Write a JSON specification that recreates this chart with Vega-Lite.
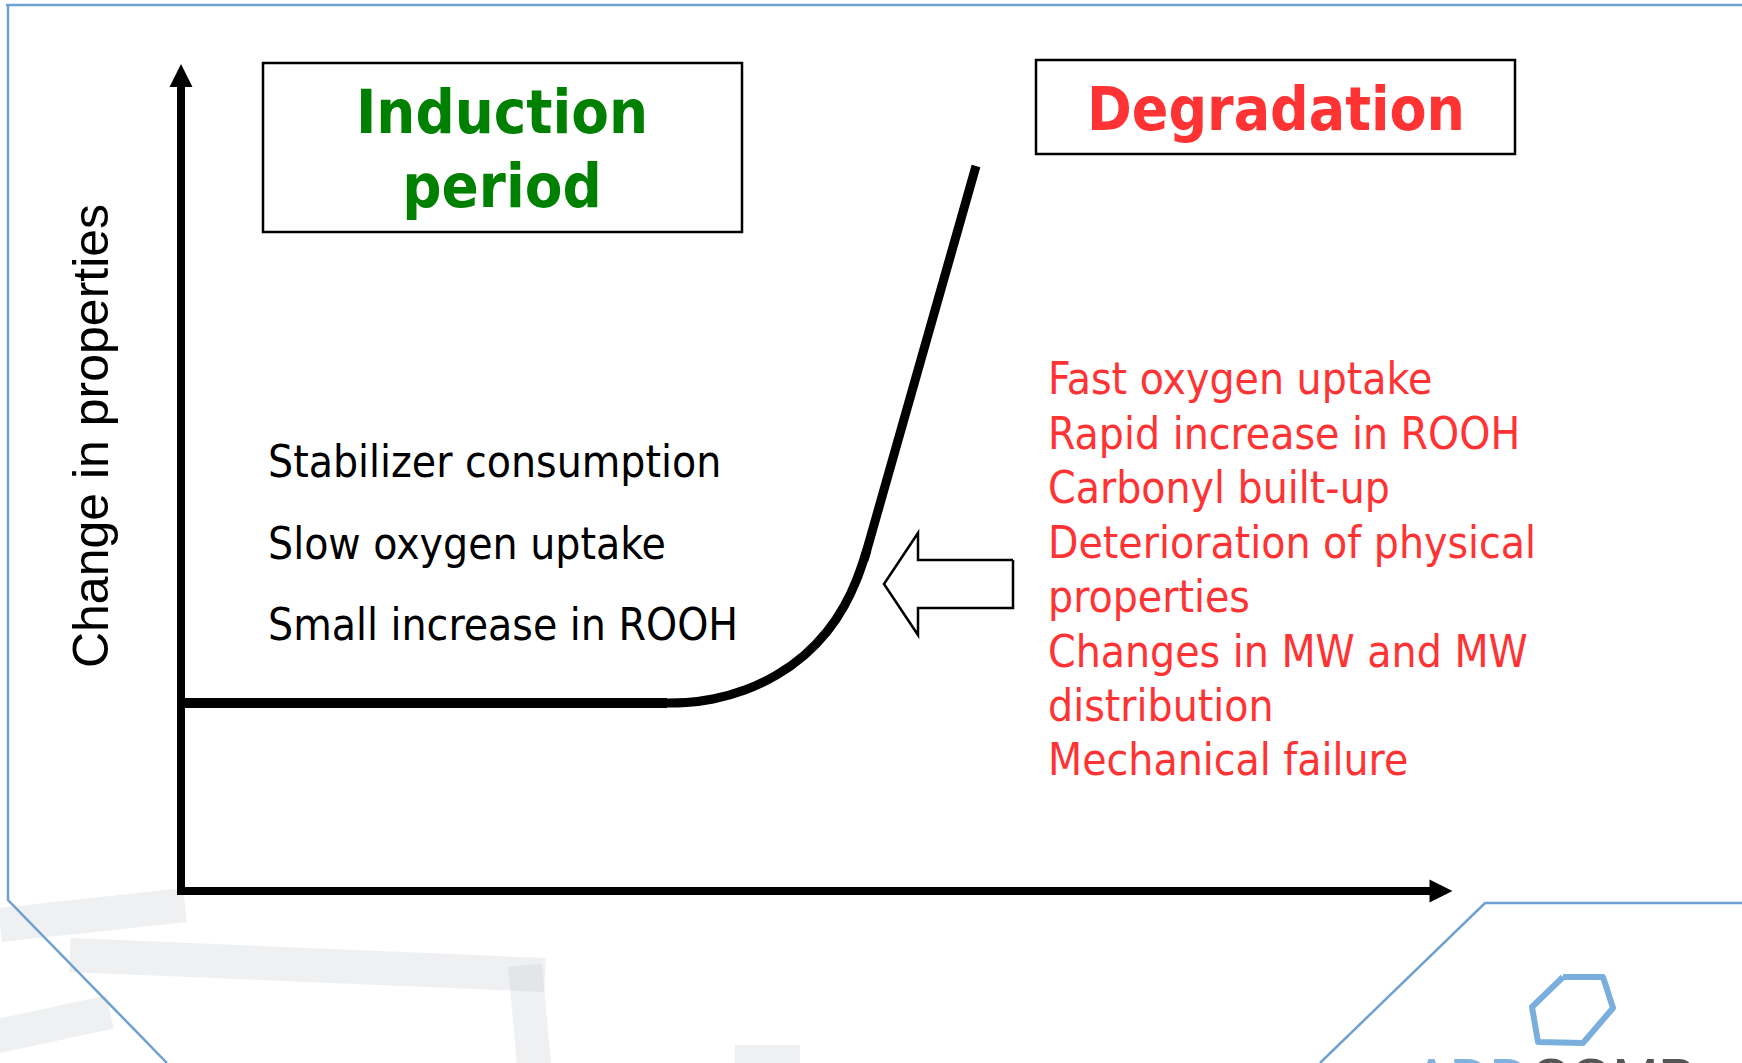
{
  "$schema": "https://vega.github.io/schema/vega-lite/v6.json",
  "width": 1742,
  "height": 1063,
  "autosize": {"type": "none"},
  "padding": 0,
  "background": "white",
  "config": {"view": {"stroke": null}},
  "encoding": {
    "x": {"field": "x", "type": "quantitative", "scale": {"domain": [0, 1742], "nice": false, "zero": false}, "axis": null},
    "y": {"field": "y", "type": "quantitative", "scale": {"domain": [0, 1063], "nice": false, "zero": false, "reverse": true}, "axis": null}
  },
  "layer": [
    {
      "data": {"values": [
        {"g": "a", "i": 0, "x": 0, "y": 925}, {"g": "a", "i": 1, "x": 185, "y": 905},
        {"g": "b", "i": 0, "x": 70, "y": 955}, {"g": "b", "i": 1, "x": 545, "y": 975},
        {"g": "c", "i": 0, "x": 525, "y": 965}, {"g": "c", "i": 1, "x": 535, "y": 1075},
        {"g": "d", "i": 0, "x": -20, "y": 1040}, {"g": "d", "i": 1, "x": 110, "y": 1012},
        {"g": "e", "i": 0, "x": 735, "y": 1062}, {"g": "e", "i": 1, "x": 800, "y": 1062}
      ]},
      "mark": {"type": "line", "color": "#c9cdd3", "strokeWidth": 34, "opacity": 0.3, "strokeCap": "butt"},
      "encoding": {"detail": {"field": "g"}, "order": {"field": "i", "type": "quantitative"}}
    },
    {
      "data": {"values": [
        {"g": "top", "i": 0, "x": 6, "y": 5}, {"g": "top", "i": 1, "x": 1742, "y": 5},
        {"g": "left", "i": 0, "x": 8, "y": 5}, {"g": "left", "i": 1, "x": 8, "y": 900}, {"g": "left", "i": 2, "x": 167, "y": 1063},
        {"g": "br", "i": 0, "x": 1742, "y": 903}, {"g": "br", "i": 1, "x": 1485, "y": 903}, {"g": "br", "i": 2, "x": 1320, "y": 1063}
      ]},
      "mark": {"type": "line", "color": "#6fa1d0", "strokeWidth": 2.5},
      "encoding": {"detail": {"field": "g"}, "order": {"field": "i", "type": "quantitative"}}
    },
    {
      "data": {"values": [
        {"g": "hex", "i": 0, "x": 1563, "y": 977}, {"g": "hex", "i": 1, "x": 1603, "y": 977},
        {"g": "hex", "i": 2, "x": 1613, "y": 1008}, {"g": "hex", "i": 3, "x": 1583, "y": 1043},
        {"g": "hex", "i": 4, "x": 1538, "y": 1042}, {"g": "hex", "i": 5, "x": 1532, "y": 1007},
        {"g": "hex", "i": 6, "x": 1563, "y": 977}
      ]},
      "mark": {"type": "line", "color": "#7aaedc", "strokeWidth": 6, "strokeJoin": "round"},
      "encoding": {"detail": {"field": "g"}, "order": {"field": "i", "type": "quantitative"}}
    },
    {
      "data": {"values": [
        {"t": "ADD", "x": 1413, "y": 1097, "c": "a"},
        {"t": "COMP", "x": 1530, "y": 1097, "c": "b"}
      ]},
      "mark": {"type": "text", "font": "Liberation Sans", "fontSize": 55, "align": "left", "baseline": "alphabetic"},
      "encoding": {
        "text": {"field": "t"},
        "color": {"field": "c", "type": "nominal", "scale": {"domain": ["a", "b"], "range": ["#7fb2e0", "#555555"]}, "legend": null}
      }
    },
    {
      "data": {"values": [
        {"x": 181, "y": 891, "x2": 181, "y2": 84},
        {"x": 177, "y": 891, "x2": 1432, "y2": 891}
      ]},
      "mark": {"type": "rule", "color": "black", "strokeWidth": 8},
      "encoding": {
        "x2": {"field": "x2"},
        "y2": {"field": "y2"}
      }
    },
    {
      "data": {"values": [{"x": 181, "y": 75.5}]},
      "mark": {"type": "point", "shape": "M0,-1L1,1L-1,1Z", "size": 529, "filled": true, "color": "black", "opacity": 1, "strokeWidth": 0}
    },
    {
      "data": {"values": [{"x": 1441, "y": 891}]},
      "mark": {"type": "point", "shape": "M-1,-1L1,0L-1,1Z", "size": 529, "filled": true, "color": "black", "opacity": 1, "strokeWidth": 0}
    },
    {
      "data": {"values": [
        {"i": 0, "x": 181, "y": 703}, {"i": 1, "x": 420, "y": 703}, {"i": 2, "x": 667, "y": 703}
      ]},
      "mark": {"type": "line", "color": "black", "strokeWidth": 10, "strokeCap": "butt"},
      "encoding": {"order": {"field": "i", "type": "quantitative"}}
    },
    {
      "data": {"values": [
        {"i": 0, "x": 665, "y": 703}, {"i": 1, "x": 685, "y": 703}, {"i": 2, "x": 712, "y": 700},
        {"i": 3, "x": 745, "y": 691}, {"i": 4, "x": 777, "y": 676}, {"i": 5, "x": 805, "y": 656},
        {"i": 6, "x": 828, "y": 632}, {"i": 7, "x": 845, "y": 606}, {"i": 8, "x": 857, "y": 580},
        {"i": 9, "x": 864, "y": 559}, {"i": 10, "x": 867, "y": 550}
      ]},
      "mark": {"type": "line", "color": "black", "strokeWidth": 9, "interpolate": "basis", "strokeCap": "butt"},
      "encoding": {"order": {"field": "i", "type": "quantitative"}}
    },
    {
      "data": {"values": [
        {"i": 0, "x": 864, "y": 560}, {"i": 1, "x": 976, "y": 166}
      ]},
      "mark": {"type": "line", "color": "black", "strokeWidth": 9, "strokeCap": "butt"},
      "encoding": {"order": {"field": "i", "type": "quantitative"}}
    },
    {
      "data": {"values": [
        {"x": 263, "y": 63, "x2": 742, "y2": 232},
        {"x": 1036, "y": 60, "x2": 1515, "y2": 154}
      ]},
      "mark": {"type": "rect", "fill": "white", "stroke": "black", "strokeWidth": 2.5},
      "encoding": {"x2": {"field": "x2"}, "y2": {"field": "y2"}}
    },
    {
      "data": {"values": [
        {"i": 0, "x": 1013, "y": 560}, {"i": 1, "x": 918, "y": 560}, {"i": 2, "x": 918, "y": 533},
        {"i": 3, "x": 884, "y": 584}, {"i": 4, "x": 918, "y": 635}, {"i": 5, "x": 918, "y": 608},
        {"i": 6, "x": 1013, "y": 608}, {"i": 7, "x": 1013, "y": 560}
      ]},
      "mark": {"type": "line", "color": "black", "strokeWidth": 2.5, "strokeJoin": "miter"},
      "encoding": {"order": {"field": "i", "type": "quantitative"}}
    },
    {
      "data": {"values": [
        {"t": "Induction", "x": 502, "y": 133},
        {"t": "period", "x": 502, "y": 207}
      ]},
      "mark": {"type": "text", "font": "DejaVu Sans Condensed", "fontWeight": "bold", "fontSize": 61, "color": "#008000", "align": "center", "baseline": "alphabetic"},
      "encoding": {"text": {"field": "t"}}
    },
    {
      "data": {"values": [{"t": "Degradation", "x": 1276, "y": 130}]},
      "mark": {"type": "text", "font": "DejaVu Sans Condensed", "fontWeight": "bold", "fontSize": 60, "color": "#ff3333", "align": "center", "baseline": "alphabetic"},
      "encoding": {"text": {"field": "t"}}
    },
    {
      "data": {"values": [
        {"t": "Stabilizer consumption", "x": 268, "y": 477},
        {"t": "Slow oxygen uptake", "x": 268, "y": 559},
        {"t": "Small increase in ROOH", "x": 268, "y": 640}
      ]},
      "mark": {"type": "text", "font": "DejaVu Sans Condensed", "fontSize": 44, "color": "black", "align": "left", "baseline": "alphabetic"},
      "encoding": {"text": {"field": "t"}}
    },
    {
      "data": {"values": [
        {"t": "Fast oxygen uptake", "x": 1048, "y": 394},
        {"t": "Rapid increase in ROOH", "x": 1048, "y": 449},
        {"t": "Carbonyl built-up", "x": 1048, "y": 503},
        {"t": "Deterioration of physical", "x": 1048, "y": 558},
        {"t": "properties", "x": 1048, "y": 612},
        {"t": "Changes in MW and MW", "x": 1048, "y": 667},
        {"t": "distribution", "x": 1048, "y": 721},
        {"t": "Mechanical failure", "x": 1048, "y": 775}
      ]},
      "mark": {"type": "text", "font": "DejaVu Sans Condensed", "fontSize": 44, "color": "#ff3333", "align": "left", "baseline": "alphabetic"},
      "encoding": {"text": {"field": "t"}}
    },
    {
      "data": {"values": [{"t": "Change in properties", "x": 108, "y": 436}]},
      "mark": {"type": "text", "font": "Liberation Sans", "fontSize": 50, "color": "black", "align": "center", "baseline": "alphabetic", "angle": 270},
      "encoding": {"text": {"field": "t"}}
    }
  ]
}
